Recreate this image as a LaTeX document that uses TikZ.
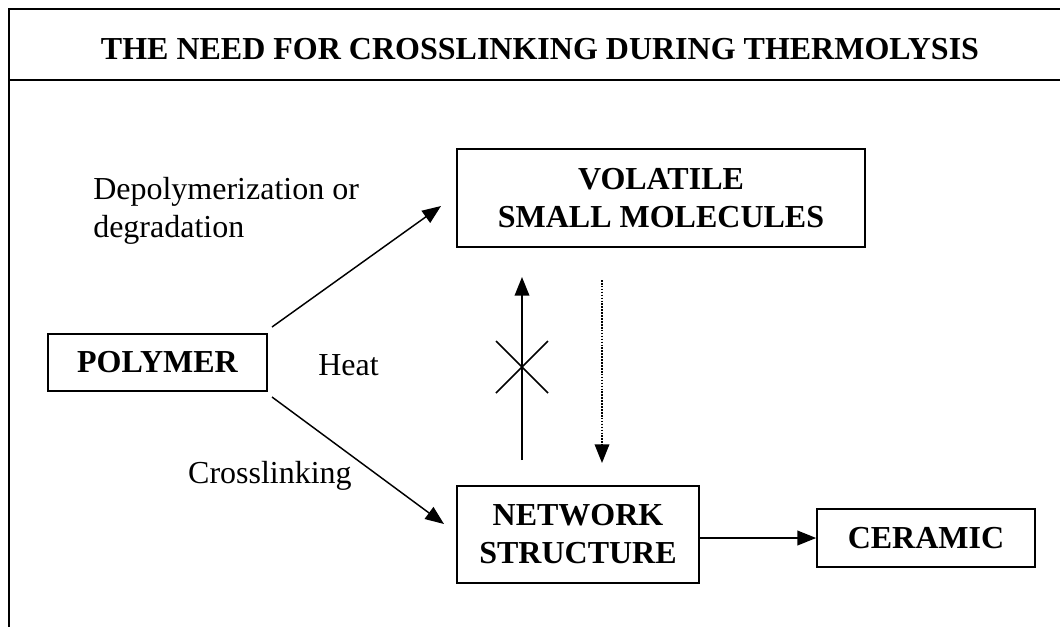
\documentclass[tikz,border=0pt]{standalone}
\usepackage{fontspec}
\setmainfont{Liberation Serif}
\usetikzlibrary{arrows.meta}
\begin{document}
\begin{tikzpicture}[x=0.75pt,y=-0.75pt,
  txt/.style={font=\fontsize{24}{28}\selectfont, inner sep=0pt},
  boxed/.style={draw, line width=1.3pt, font=\fontsize{24}{28.5}\selectfont\bfseries, align=center, inner sep=0pt},
  conn/.style={line width=1.1pt, -{Triangle[length=14pt,width=11pt]}},
  frame/.style={line width=1.5pt}]
\useasboundingbox (0,0) rectangle (1060,626);
% frame
\coordinate (fl) at (9,627);
\coordinate (ftl) at (9,9);
\coordinate (ftr) at (1062,9);
\coordinate (tl) at (9,80);
\coordinate (tr) at (1062,80);
\draw[frame] (fl) -- (ftl) -- (ftr);
\draw[frame] (tl) -- (tr);
\node[txt, font=\fontsize{24}{28.5}\selectfont\bfseries, anchor=base] (title) at (540,59) {THE NEED FOR CROSSLINKING DURING THERMOLYSIS};
% boxes
\node[boxed, minimum width=164.25pt, minimum height=42.75pt] (poly) at (157.5,362.5) {POLYMER};
\node[boxed, minimum width=306pt, minimum height=73.5pt] (vol) at (661,198) {VOLATILE\\SMALL MOLECULES};
\node[boxed, minimum width=181.5pt, minimum height=72.75pt] (net) at (578,534.5) {NETWORK\\STRUCTURE};
\node[boxed, minimum width=163.5pt, minimum height=43.5pt] (cer) at (926,538) {CERAMIC};
% labels
\node[txt, anchor=base west, align=left] (dep) at (93,237) {Depolymerization or\\degradation};
\node[txt, anchor=base west] (heat) at (318,375) {Heat};
\node[txt, anchor=base east] (cross) at (352,483) {Crosslinking};
% arrows
\coordinate (a1s) at (272,327);
\coordinate (a1e) at (441,206);
\draw[conn] (a1s) -- (a1e);
\coordinate (a2s) at (272,397);
\coordinate (a2e) at (444,524);
\draw[conn] (a2s) -- (a2e);
\draw[conn] (net.east |- cer.west) -- (cer.west);
\coordinate (up1) at (522,460);
\coordinate (up2) at (522,277);
\draw[conn] (up1) -- (up2);
\coordinate (x1) at (496,341);
\coordinate (x2) at (548,393);
\coordinate (x3) at (496,393);
\coordinate (x4) at (548,341);
\draw[line width=1.1pt] (x1) -- (x2) (x3) -- (x4);
\coordinate (dn1) at (602,280);
\coordinate (dn2) at (602,463);
\draw[line width=1pt, dash pattern=on 1.2pt off 1pt, -{Triangle[length=14pt,width=11pt]}] (dn1) -- (dn2);
\end{tikzpicture}
\end{document}
